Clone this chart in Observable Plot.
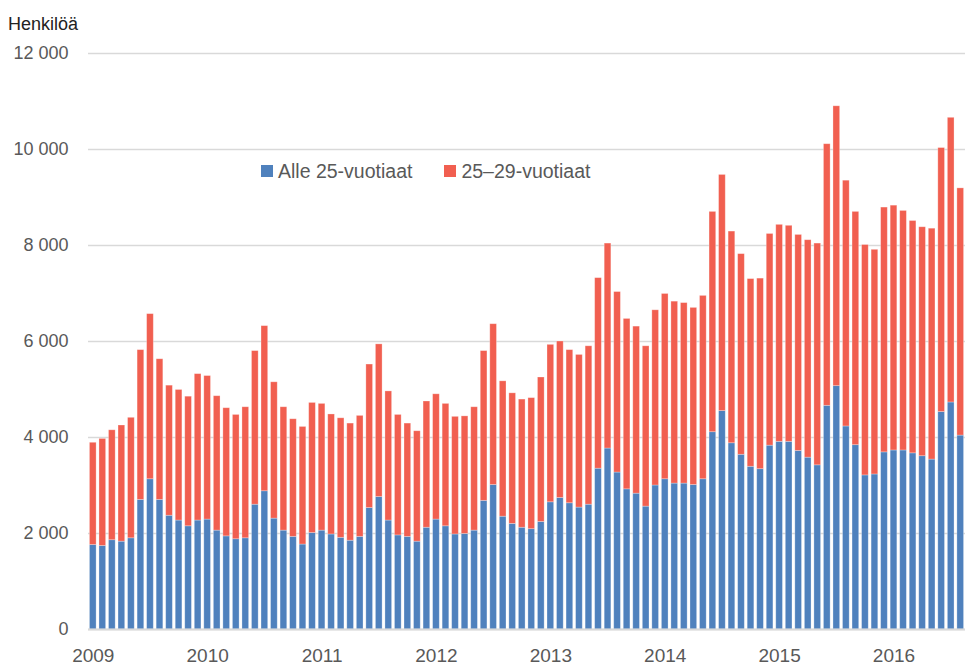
<!DOCTYPE html>
<html>
<head>
<meta charset="utf-8">
<script src="https://cdn.jsdelivr.net/npm/d3@7"></script>
<script src="https://cdn.jsdelivr.net/npm/@observablehq/plot@0.6"></script>
<style>
  body { margin: 0; background: #fff; font-family: "Liberation Sans", Arial, sans-serif; }
  #wrap { position: relative; width: 965px; height: 666px; }
  #title { height: 40px; box-sizing: border-box; padding: 14px 0 0 8px; font-size: 18px; line-height: 20px; color: #222; }
  #legend { position: absolute; left: 261px; top: 161px; display: flex; align-items: center; height: 20px; font-size: 19.5px; line-height: 20px; color: #595959; }
  #legend .sw { width: 12px; height: 12px; display: inline-block; margin-right: 5px; }
  #legend .item { display: flex; align-items: center; }
</style>
</head>
<body>
<div id="wrap">
  <div id="title">Henkilöä</div>
  <div id="chart"></div>
  <div id="legend"></div>
</div>
<script>
// Tick labels / categories
const years = ["2009", "2010", "2011", "2012", "2013", "2014", "2015", "2016"];
const seriesNames = ["Alle 25-vuotiaat", "25–29-vuotiaat"];
const seriesColors = ["#4f81bd", "#f15f50"];
const yTicks = [0, 2000, 4000, 6000, 8000, 10000, 12000];

// Monthly values, Jan 2009 – Aug 2016
const under25 = [
  1760, 1740, 1860, 1830, 1900, 2700, 3130, 2700, 2370, 2270, 2150, 2270,
  2290, 2060, 1940, 1880, 1900, 2600, 2880, 2310, 2060, 1930, 1770, 2010,
  2060, 1980, 1910, 1850, 1930, 2530, 2760, 2270, 1960, 1930, 1830, 2120,
  2290, 2150, 1980, 1990, 2060, 2680, 3010, 2350, 2200, 2120, 2090, 2240,
  2650, 2740, 2630, 2540, 2600, 3350, 3770, 3270, 2920, 2830, 2560, 3000,
  3130, 3040, 3040, 3010, 3130, 4110, 4550, 3880, 3640, 3390, 3340, 3830,
  3910, 3910, 3720, 3580, 3420, 4660, 5070, 4230, 3840, 3210, 3230, 3690,
  3730, 3730, 3670, 3610, 3540, 4530, 4730, 4040
];
const age25to29 = [
  2130, 2230, 2290, 2420, 2510, 3120, 3440, 2930, 2710, 2720, 2700, 3050,
  2990, 2800, 2670, 2590, 2730, 3200, 3440, 2840, 2570, 2450, 2450, 2710,
  2640, 2500, 2490, 2440, 2520, 2990, 3180, 2690, 2510, 2360, 2300, 2630,
  2610, 2550, 2450, 2450, 2570, 3120, 3350, 2820, 2720, 2670, 2730, 3010,
  3280, 3260, 3190, 3180, 3300, 3970, 4270, 3760, 3550, 3480, 3340, 3650,
  3860, 3790, 3760, 3690, 3820, 4590, 4920, 4410, 4180, 3910, 3970, 4410,
  4520, 4500, 4500, 4530, 4620, 5450, 5830, 5120, 4860, 4800, 4680, 5100,
  5100, 4990, 4840, 4770, 4810, 5500, 5930, 5150
];

const months = d3.range(under25.length);
const data = [];
for (const i of months) {
  data.push({month: i, group: seriesNames[0], value: under25[i]});
  data.push({month: i, group: seriesNames[1], value: age25to29[i]});
}
const janTicks = years.map((_, k) => k * 12);

const fmt = d => d3.format(",")(d).replace(/,/g, " ");

const chart = Plot.plot({
  width: 965,
  height: 626,
  marginLeft: 88,
  marginRight: 0,
  marginTop: 13,
  marginBottom: 37,
  style: {fontFamily: "Liberation Sans, Arial, sans-serif", fontSize: "18px", color: "#595959", background: "#fff"},
  x: {type: "band", domain: months, paddingInner: 0.3, paddingOuter: 0.15},
  y: {domain: [0, 12000]},
  color: {domain: seriesNames, range: seriesColors},
  marks: [
    Plot.gridY(yTicks, {stroke: "#d9d9d9", strokeOpacity: 1, strokeWidth: 1.5}),
    Plot.barY(data, {x: "month", y: "value", fill: "group", z: "group", stroke: "#ffffff", strokeOpacity: 0.35, strokeWidth: 0.8}),
    Plot.ruleY([0], {stroke: "#d9d9d9", strokeWidth: 2}),
    Plot.axisY({ticks: yTicks, tickFormat: fmt, tickSize: 0, tickPadding: 20, label: null, fontSize: 18}),
    Plot.axisX({ticks: janTicks, tickFormat: i => years[i / 12], tickSize: 0, tickPadding: 19, label: null, fontSize: 19})
  ]
});
document.getElementById("chart").appendChild(chart);

const legend = document.getElementById("legend");
seriesNames.forEach((name, k) => {
  const item = document.createElement("span");
  item.className = "item";
  if (k > 0) item.style.marginLeft = "32px";
  const sw = document.createElement("span");
  sw.className = "sw";
  sw.style.background = seriesColors[k];
  item.appendChild(sw);
  item.appendChild(document.createTextNode(name));
  legend.appendChild(item);
});
</script>
</body>
</html>
